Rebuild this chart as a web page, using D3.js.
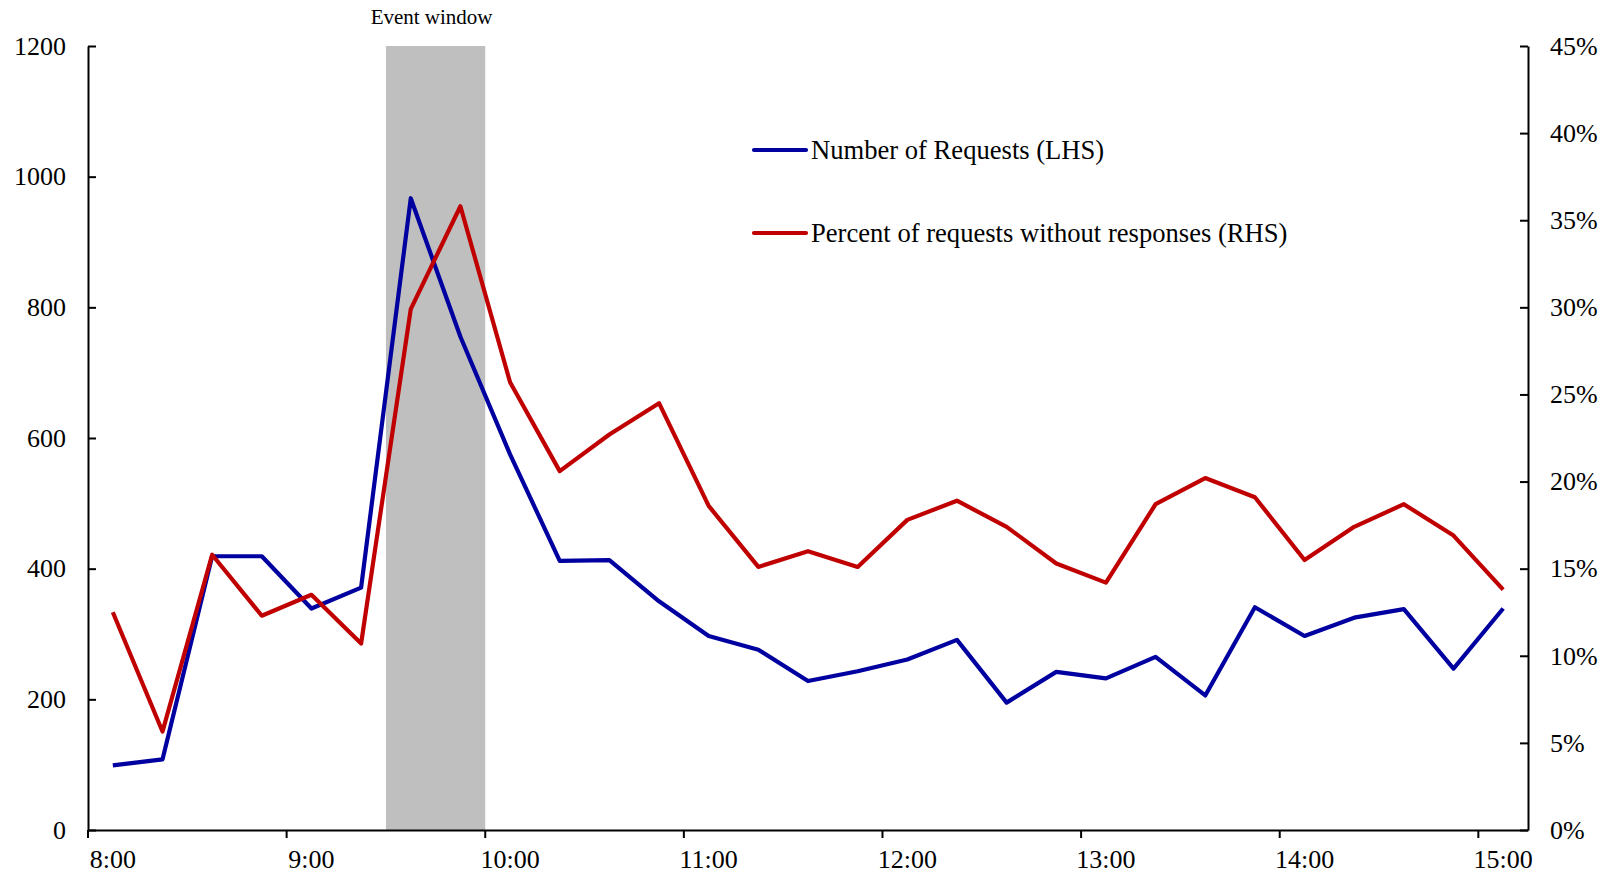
<!DOCTYPE html>
<html>
<head>
<meta charset="utf-8">
<script src="https://cdn.jsdelivr.net/npm/d3@7"></script>
<style>
  html, body { margin: 0; padding: 0; background: #fff; }
  svg { display: block; font-family: "Liberation Serif", "Times New Roman", serif; }
</style>
</head>
<body>
<svg id="chart" width="1609" height="877"></svg>
<script>
const categories = ["8:00","8:15","8:30","8:45","9:00","9:15","9:30","9:45","10:00","10:15","10:30","10:45",
  "11:00","11:15","11:30","11:45","12:00","12:15","12:30","12:45","13:00","13:15","13:30","13:45",
  "14:00","14:15","14:30","14:45","15:00"];
const requests = [99,108,419,419,339,371,967,755,575,412,413,350,297,276,228,243,261,291,195,242,232,265,206,341,297,325,338,247,339];
const pctNoResponse = [12.5,5.65,15.8,12.3,13.5,10.7,29.9,35.8,25.7,20.6,22.7,24.5,18.6,15.1,16.0,15.1,17.8,18.9,17.4,15.3,14.2,18.7,20.2,19.1,15.5,17.4,18.7,16.9,13.8];
const xTickLabels = ["8:00","9:00","10:00","11:00","12:00","13:00","14:00","15:00"];
const leftTicks = [0,200,400,600,800,1000,1200];
const rightTicks = [0,5,10,15,20,25,30,35,40,45];
const eventWindow = ["9:30","9:45"];
const seriesNames = ["Number of Requests (LHS)", "Percent of requests without responses (RHS)"];
const seriesColors = ["#0000A0", "#C00000"];

const svg = d3.select("#chart");
const L = 88, R = 1528, T = 46, B = 830;

const x = d3.scaleBand().domain(categories).range([L, R]).padding(0);
const yL = d3.scaleLinear().domain([0, 1200]).range([B, T]);
const yR = d3.scaleLinear().domain([0, 45]).range([B, T]);
const cx = c => x(c) + x.bandwidth() / 2;

// Event window
svg.append("rect")
  .attr("x", x(eventWindow[0]))
  .attr("y", yL(1200))
  .attr("width", x(eventWindow[1]) + x.bandwidth() - x(eventWindow[0]))
  .attr("height", yL(0) - yL(1200))
  .attr("fill", "#BFBFBF");
svg.append("text")
  .attr("x", x(eventWindow[0]) + x.bandwidth() - 4)
  .attr("y", 24)
  .attr("text-anchor", "middle")
  .attr("font-size", 21)
  .attr("fill", "#000")
  .text("Event window");

// Lines
const lineL = d3.line().x((d, i) => cx(categories[i])).y(d => yL(d));
const lineR = d3.line().x((d, i) => cx(categories[i])).y(d => yR(d));
svg.append("path").datum(requests).attr("d", lineL)
  .attr("fill", "none").attr("stroke", seriesColors[0]).attr("stroke-width", 4.2).attr("stroke-linejoin", "round");
svg.append("path").datum(pctNoResponse).attr("d", lineR)
  .attr("fill", "none").attr("stroke", seriesColors[1]).attr("stroke-width", 4.2).attr("stroke-linejoin", "round");

// Axes
function styleAxis(g) {
  g.select(".domain").attr("stroke", "#000").attr("stroke-width", 2);
  g.selectAll(".tick line").attr("stroke", "#000").attr("stroke-width", 2);
  g.selectAll(".tick text").attr("fill", "#000").attr("font-size", 26)
    .attr("font-family", "'Liberation Serif', 'Times New Roman', serif");
}

const gL = svg.append("g").attr("transform", `translate(${L},0)`)
  .call(d3.axisLeft(yL).tickValues(leftTicks).tickSizeInner(-8).tickSizeOuter(0).tickPadding(22)
    .tickFormat(d3.format("d")));
styleAxis(gL);

const gR = svg.append("g").attr("transform", `translate(${R},0)`)
  .call(d3.axisRight(yR).tickValues(rightTicks).tickSizeInner(-8).tickSizeOuter(0).tickPadding(22)
    .tickFormat(d => d + "%"));
styleAxis(gR);

const gX = svg.append("g").attr("transform", `translate(0,${B})`)
  .call(d3.axisBottom(x).tickValues(xTickLabels).tickSize(0).tickPadding(20));
styleAxis(gX);
gX.selectAll(".tick text").attr("dy", "0.71em");
// tick marks at category boundaries of hour labels
gX.selectAll(".hourTick").data(xTickLabels).enter().append("line")
  .attr("x1", d => x(d)).attr("x2", d => x(d))
  .attr("y1", 0).attr("y2", 8)
  .attr("stroke", "#000").attr("stroke-width", 2);

// Legend
const legendY = [150, 233];
seriesNames.forEach((name, i) => {
  svg.append("line")
    .attr("x1", 754).attr("x2", 806)
    .attr("y1", legendY[i]).attr("y2", legendY[i])
    .attr("stroke", seriesColors[i]).attr("stroke-width", 4.2).attr("stroke-linecap", "round");
  svg.append("text")
    .attr("x", 811).attr("y", legendY[i])
    .attr("dy", "0.35em")
    .attr("font-size", 26.6)
    .attr("fill", "#000")
    .text(name);
});
</script>
</body>
</html>
